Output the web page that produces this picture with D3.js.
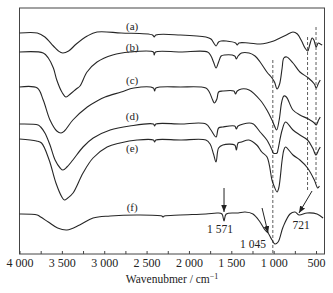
<!DOCTYPE html>
<html>
<head>
<meta charset="utf-8">
<script src="https://cdn.jsdelivr.net/npm/d3@7"></script>
<style>
  body { margin: 0; background: #fff; }
  text { font-family: "Liberation Serif", "Times New Roman", serif; fill: #222; }
</style>
</head>
<body>
<div id="chart"></div>
<script>
// FTIR spectra (a)-(f): [wavenumber cm-1, transmittance a.u. incl. offset]
var specA = [[4000,221],[3790,221],[3700,217],[3600,208],[3540,203],[3490,201],[3420,203],[3330,210],[3200,218],[3085,222],
  [2800,221],[2430,219],[2410,217],[2390,219],[2100,219],[1800,217],[1740,215],[1700,210],[1680,208],[1650,212],[1620,213],
  [1560,213],[1450,211],[1430,209],[1410,211],[1300,211],[1160,210],[1080,211],[1000,213],[925,216],[850,219],[772,222],
  [720,220],[670,213],[630,206],[598,203],[575,209],[545,216],[525,214],[498,207],[474,211],[450,210],[427,209]];
var specB = [[4000,202],[3720,201],[3660,196],[3600,186],[3560,174],[3500,162],[3451,157],[3400,160],[3330,165],[3286,168],
  [3203,182],[3085,192],[2900,199],[2700,202],[2420,202],[2410,199],[2395,202],[2100,202],[1780,202],[1740,198],[1710,192],
  [1680,186],[1650,192],[1620,198],[1580,199],[1460,198],[1440,195],[1420,198],[1380,201],[1290,201],[1220,198],[1160,192],
  [1080,182],[1020,176],[990,172],[960,165],[930,170],[900,186],[880,196],[845,197],[772,191],[690,182],[590,176],[520,170],
  [498,166],[470,171],[450,174]];
var specC = [[4000,167],[3790,166],[3720,154],[3640,134],[3560,123],[3510,121],[3470,123],[3370,134],[3200,147],[3085,153],
  [2990,157],[2800,162],[2650,166],[2420,166],[2405,163],[2390,166],[2100,167],[1800,166],[1760,162],[1720,154],[1700,151],
  [1670,155],[1650,162],[1600,163],[1470,163],[1450,160],[1430,163],[1380,165],[1290,164],[1160,154],[1080,144],[1020,134],
  [990,128],[965,124],[935,134],[905,152],[880,158],[850,157],[772,144],[690,139],[590,135],[520,131],[498,129],[470,134],[450,137]];
var specD = [[4000,130],[3780,129],[3750,127],[3700,121],[3640,109],[3580,94],[3520,86],[3487,84],[3440,87],[3370,94],
  [3250,107],[3130,116],[2930,124],[2700,128],[2420,130],[2405,128],[2390,130],[2100,130],[1800,130],[1740,124],[1680,117],
  [1650,126],[1600,127],[1460,128],[1440,125],[1420,128],[1290,131],[1240,130],[1160,122],[1080,114],[1020,104],[1005,101],
  [960,101],[950,104],[900,124],[860,132],[772,124],[690,119],[600,114],[540,106],[500,99],[470,104],[450,107]];
var specE = [[4000,115],[3800,113],[3740,111],[3650,94],[3570,71],[3500,57],[3470,54],[3430,56],[3368,61],[3250,81],
  [3132,96],[2966,107],[2813,111],[2613,114],[2420,114],[2405,112],[2390,114],[2105,114],[1800,114],[1750,110],[1710,100],
  [1680,92],[1650,106],[1600,109],[1460,109],[1440,104],[1420,111],[1380,112],[1293,114],[1200,109],[1140,102],[1078,97],
  [1020,74],[1000,69],[960,62],[940,66],[900,94],[880,104],[860,107],[772,99],[690,94],[600,86],[520,74],[480,66],[460,68]];
var specF = [[4000,40],[3790,39],[3750,37],[3660,32],[3550,26],[3440,24],[3290,29],[3132,36],[2930,38],[2613,39],[2320,38],
  [2306,37],[2290,38],[2105,39],[1800,40],[1660,41],[1610,40],[1586,33],[1560,40],[1420,41],[1338,42],[1244,40],[1161,32],
  [1102,24],[1066,21],[1019,14],[984,10],[948,12],[889,27],[807,40],[748,42],[701,39],[606,41],[488,40],[417,36]];

var seriesNames = ["(a)", "(b)", "(c)", "(d)", "(e)", "(f)"];
var seriesData = [specA, specB, specC, specD, specE, specF];
var labelWn = 2670;
var labelT = [224.5, 203.5, 170.5, 134.5, 102.5, 43.5];

var tickValues = [4000,3750,3500,3250,3000,2750,2500,2250,2000,1750,1500,1250,1000,750,500];
var tickLabels = {4000:"4 000",3500:"3 500",3000:"3 000",2500:"2 500",2000:"2 000",1500:"1 500",1000:"1 000",500:"500"};

// dashed guide lines: wavenumber, from T, to T
var guides = [[1010,194,0],[600,217,62],[500,227,71]];
// arrows: [wnFrom, TFrom, wnTo, TTo], labels: [text, wn, T]
var arrows = [[1586,66,1586,42],[1137,46,1066,21],[547,63,701,41]];
var peakLabels = [["1 571",1633,21],["1 045",1244,6],["721",677,25]];

var W = 333, H = 293;
var margin = {top: 8, right: 8.5, bottom: 39, left: 19.5};

var svg = d3.select("#chart").append("svg")
    .attr("width", W).attr("height", H);

var x = d3.scaleLinear().domain([4000, 400]).range([margin.left, W - margin.right]);
var y = d3.scaleLinear().domain([0, 246]).range([H - margin.bottom, margin.top]);

svg.append("defs").append("marker")
    .attr("id", "arr")
    .attr("viewBox", "0 0 10 10")
    .attr("refX", 10).attr("refY", 5)
    .attr("markerWidth", 7).attr("markerHeight", 7)
    .attr("markerUnits", "userSpaceOnUse")
    .attr("orient", "auto")
    .append("path").attr("d", "M0,1 L10,5 L0,9 Z").attr("fill", "#222");

// frame
svg.append("rect")
    .attr("x", x(4000)).attr("y", y(246))
    .attr("width", x(400) - x(4000)).attr("height", y(0) - y(246))
    .attr("fill", "none").attr("stroke", "#444").attr("stroke-width", 1);

var xAxis = svg.append("g")
    .attr("transform", "translate(0," + y(0) + ")")
    .call(d3.axisBottom(x).tickValues(tickValues).tickSize(-3).tickPadding(4)
        .tickFormat(function(d){ return tickLabels[d] || ""; }));
xAxis.select(".domain").remove();
xAxis.selectAll("line").attr("stroke", "#444");
xAxis.selectAll("text").style("font-size", "12px").style("font-family", "Liberation Serif, serif").attr("fill", "#222");

var axisLabel = svg.append("text")
    .attr("x", (x(4000) + x(400)) / 2).attr("y", 283)
    .attr("text-anchor", "middle").style("font-size", "11.5px");
axisLabel.append("tspan").text("Wavenubmer / cm");
axisLabel.append("tspan").attr("dy", -4).style("font-size", "8px").text("−1");

// guides
svg.selectAll(".guide").data(guides).enter().append("line")
    .attr("class", "guide")
    .attr("x1", function(d){ return x(d[0]); }).attr("x2", function(d){ return x(d[0]); })
    .attr("y1", function(d){ return y(d[1]); }).attr("y2", function(d){ return y(d[2]); })
    .attr("stroke", "#333").attr("stroke-width", 0.8).attr("stroke-dasharray", "3,2");

var line = d3.line()
    .x(function(d){ return x(d[0]); })
    .y(function(d){ return y(d[1]); })
    .curve(d3.curveCatmullRom.alpha(0.5));

svg.selectAll(".spec").data(seriesData).enter().append("path")
    .attr("class", "spec")
    .attr("d", line)
    .attr("fill", "none").attr("stroke", "#262626").attr("stroke-width", 1.1);

svg.selectAll(".slabel").data(seriesNames).enter().append("text")
    .attr("class", "slabel")
    .attr("x", x(labelWn))
    .attr("y", function(d, i){ return y(labelT[i]); })
    .attr("text-anchor", "middle").style("font-size", "11px")
    .text(function(d){ return d; });

svg.selectAll(".arrow").data(arrows).enter().append("line")
    .attr("class", "arrow")
    .attr("x1", function(d){ return x(d[0]); }).attr("y1", function(d){ return y(d[1]); })
    .attr("x2", function(d){ return x(d[2]); }).attr("y2", function(d){ return y(d[3]); })
    .attr("stroke", "#222").attr("stroke-width", 1)
    .attr("marker-end", "url(#arr)");

svg.selectAll(".plabel").data(peakLabels).enter().append("text")
    .attr("class", "plabel")
    .attr("x", function(d){ return x(d[1]); }).attr("y", function(d){ return y(d[2]); })
    .attr("text-anchor", "middle").style("font-size", "11.5px")
    .text(function(d){ return d[0]; });
</script>
</body>
</html>
